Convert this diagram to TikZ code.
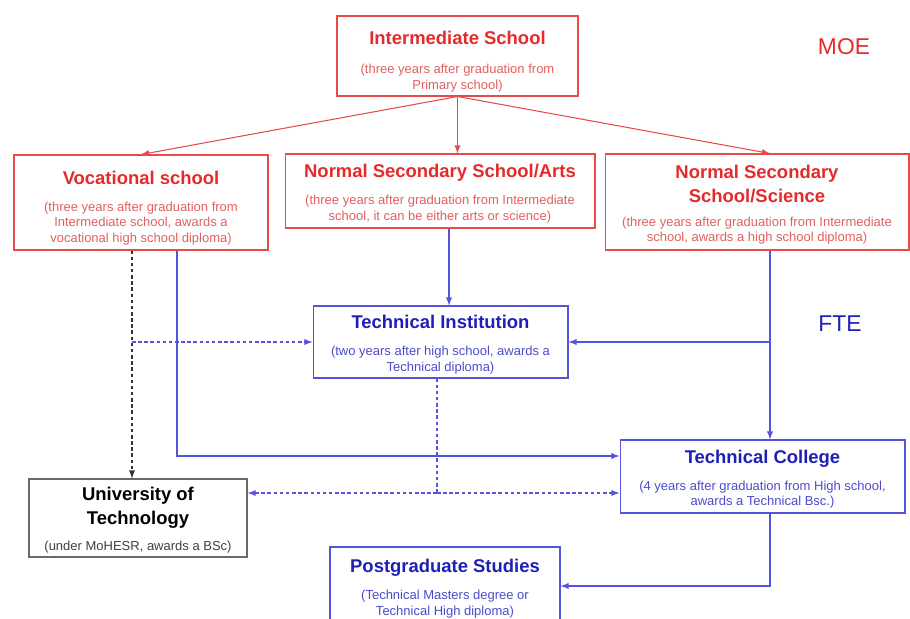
\documentclass[tikz,border=0pt]{standalone}
\usepackage{fontspec}
\setmainfont{Liberation Sans}
\usepackage{xcolor}

\definecolor{moered}{RGB}{228,42,42}
\definecolor{moenote}{RGB}{225,95,95}
\definecolor{moeline}{RGB}{230,75,75}
\definecolor{fteblue}{RGB}{30,30,185}
\definecolor{ftenote}{RGB}{75,75,205}
\definecolor{fteline}{RGB}{85,85,220}
\definecolor{unigray}{RGB}{105,105,105}

\newcommand{\headfont}{\fontsize{10.5}{12.5}\selectfont\bfseries\rule{0pt}{10.5pt}}
\newcommand{\notefont}{\fontsize{7.4}{8.8}\selectfont}

\begin{document}
\begin{tikzpicture}[x=0.02cm,y=-0.02cm,>=latex,
moebox/.style={draw=moeline,line width=0.6pt,align=center,font=\notefont,text=moenote,inner sep=0pt},
ftebox/.style={draw=fteline,line width=0.6pt,align=center,font=\notefont,text=ftenote,inner sep=0pt},
unibox/.style={draw=unigray,line width=0.7pt,align=center,font=\notefont,text=black!75,inner sep=0pt},
moearrow/.style={->,draw=moeline,line width=0.6pt},
ftearrow/.style={->,draw=fteline,line width=0.6pt},
fteflow/.style={ftearrow,dash pattern=on 2pt off 1.5pt},
uniflow/.style={->,draw=black!80,line width=0.6pt,dash pattern=on 2pt off 1.5pt}
]
\useasboundingbox (0,0) rectangle (910,619);

% The boxes
\node[moebox,minimum width=4.82cm,minimum height=1.6cm] (inter) at (457.5,56)
  {{\headfont\color{moered}\rule{0pt}{14pt}Intermediate School}\\[8pt]
   (three years after graduation from\\ Primary school)};
\node[moebox,minimum width=5.08cm,minimum height=1.9cm] (voc) at (141,202.5)
  {{\headfont\color{moered}\rule{0pt}{14pt}Vocational school}\\[6.5pt]
   (three years after graduation from\\ Intermediate school, awards a\\ vocational high school diploma)};
\node[moebox,minimum width=6.2cm,minimum height=1.48cm] (arts) at (440,191)
  {{\headfont\color{moered}Normal Secondary School/Arts}\\[6.5pt]
   (three years after graduation from Intermediate\\ school, it can be either arts or science)};
\node[moebox,minimum width=6.08cm,minimum height=1.92cm] (sci) at (757,202)
  {{\headfont\color{moered}Normal Secondary}\\
   {\headfont\color{moered}School/Science}\\[5pt]
   (three years after graduation from Intermediate\\ school, awards a high school diploma)};
\node[ftebox,minimum width=5.1cm,minimum height=1.44cm] (ti) at (440.5,342)
  {{\headfont\color{fteblue}Technical Institution}\\[6.5pt]
   (two years after high school, awards a\\ Technical diploma)};
\node[ftebox,minimum width=5.7cm,minimum height=1.46cm] (tc) at (762.5,476.5)
  {{\headfont\color{fteblue}Technical College}\\[6.5pt]
   (4 years after graduation from High school,\\ awards a Technical Bsc.)};
\node[unibox,minimum width=4.36cm,minimum height=1.56cm] (uni) at (138,518)
  {{\headfont\color{black}University of}\\
   {\headfont\color{black}Technology}\\[6pt]
   (under MoHESR, awards a BSc)};
\node[ftebox,minimum width=4.6cm,minimum height=1.56cm] (pg) at (445,586)
  {{\headfont\color{fteblue}Postgraduate Studies}\\[6.5pt]
   (Technical Masters degree or\\ Technical High diploma)};

% The labels
\node[text=moered,font=\fontsize{13}{15}\selectfont] (moe) at (844,47) {MOE};
\node[text=fteblue,font=\fontsize{13}{15}\selectfont] (fte) at (840,324) {FTE};

% The columns
\coordinate (lcol) at (132,342);
\coordinate (vcol) at (177,456);
\coordinate (acol) at (449,270);
\coordinate (rcol) at (770,342);
\coordinate (mcol) at (437,493);

% MOE arrows
\draw[moearrow] (inter.south) -- (voc.north);
\draw[moearrow] (inter.south) -- (inter.south |- arts.north);
\draw[moearrow] (inter.south) -- (rcol |- sci.north);

% FTE arrows
\draw[ftearrow] (acol |- arts.south) -- (acol |- ti.north);
\draw[ftearrow] (rcol |- sci.south) -- (rcol |- tc.north);
\draw[ftearrow] (rcol) -- (rcol -| ti.east);
\draw[uniflow] (lcol |- voc.south) -- (lcol |- uni.north);
\draw[fteflow] (lcol) -- (lcol -| ti.west);
\draw[ftearrow] (vcol |- voc.south) -- (vcol) -- (vcol -| tc.west);
\draw[fteflow,-] (mcol |- ti.south) -- (mcol);
\draw[fteflow] (mcol) -- (mcol -| uni.east);
\draw[fteflow] (mcol) -- (mcol -| tc.west);
\draw[ftearrow] (rcol |- tc.south) -- (rcol |- pg.east) -- (pg.east);
\end{tikzpicture}
\end{document}
